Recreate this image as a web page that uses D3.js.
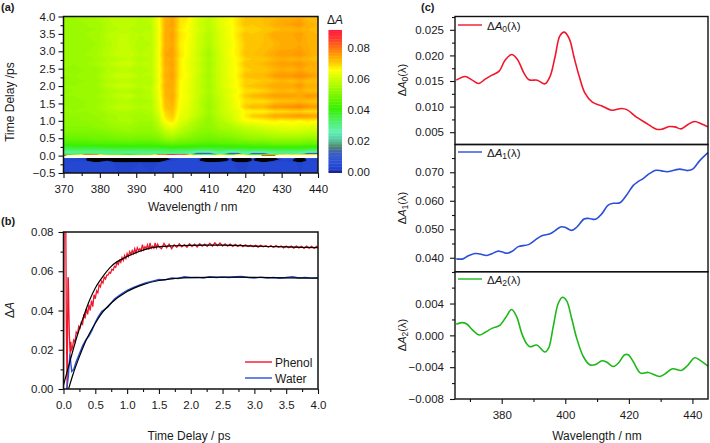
<!DOCTYPE html>
<html><head><meta charset="utf-8">
<script src="https://cdn.jsdelivr.net/npm/d3@7"></script>
<style>
html,body{margin:0;padding:0;background:#fff}
svg{display:block}
text{font-family:"Liberation Sans",Arial,sans-serif;fill:#1a1a1a}
.axis text{font-size:11.5px;fill:#1a1a1a}
.axis path,.axis line{stroke:#111;stroke-width:1.1}
</style></head><body>
<svg id="c" width="710" height="443"></svg>
<script>
// ---------- panel (a): dA x 1000 on wavelength / delay grid
const mapWavelengths=[370,373,376,379,382,385,388,391,394,396,398,400,402,404,407,410,413,416,418,420,422,425,428,430,433,435,437,440];
const mapDelays=[-0.5,-0.2,-0.16,-0.11,-0.07,-0.058,-0.005,0.012,0.05,0.1,0.18,0.25,0.35,0.5,0.7,0.85,1.0,1.14,1.27,1.4,1.56,1.72,1.86,2.0,2.15,2.29,2.47,2.64,2.77,2.9,3.2,3.5,3.62,3.78,4.0];
const mapValues=[
[3,3,3,3,3,3,3,3,3,3,3,3,3,3,3,3,3,3,3,3,3,3,3,3,3,3,3,3],
[4,4,4,3,4,2,2,3,2,3,4,4,4,4,4,3,4,4,2,2,4,3,4,4,4,2,4,4],
[3,3,3,-10,2,-14,-14,-10,-14,-8,2,3,3,3,3,-10,-4,3,-12,-14,3,-10,2,3,1,-12,3,3],
[3,2,1,-18,-4,-20,-20,-18,-20,-16,-4,2,3,3,3,-18,-10,2,-20,-20,2,-18,-4,2,2,-18,3,2],
[6,5,3,-16,-2,-18,-18,-14,-18,-12,-2,4,6,6,8,-14,-6,4,-16,-18,6,-14,-2,8,10,-14,8,8],
[100,120,130,130,130,130,130,125,125,130,130,130,130,130,130,130,130,130,125,120,130,105,110,130,130,130,130,130],
[82,125,130,130,130,130,130,120,125,130,130,130,130,130,130,130,130,130,120,100,130,84,86,130,130,130,130,130],
[45,60,96,95,60,60,50,60,60,95,96,110,110,95,45,35,80,50,90,70,50,55,55,85,70,85,92,90],
[32,30,34,32,30,31,32,30,28,32,30,30,32,30,5,5,28,5,5,28,5,6,28,30,30,24,6,6],
[27,28,28,28,28,29,28,29,29,28,29,30,29,28,24,24,28,24,25,28,26,26,29,29,29,29,26,24],
[33,34,34,34,34,35,35,34,35,35,35,36,35,35,34,34,35,35,35,35,36,35,36,36,36,36,35,35],
[37,38,38,38,39,39,39,39,39,39,40,41,40,40,39,39,39,40,40,40,41,41,41,41,41,41,40,40],
[43,43,43,44,44,44,45,44,44,45,46,47,46,46,45,44,45,45,46,46,47,47,48,48,48,48,47,47],
[47,47,47,48,48,49,49,49,49,50,53,54,52,51,49,48,49,50,51,52,53,53,54,54,54,54,53,53],
[50,50,50,50,51,52,53,52,52,54,58,60,57,55,52,51,53,54,55,56,57,58,59,60,60,60,59,59],
[51,51,51,52,53,54,54,53,53,56,62,64,60,57,54,52,55,56,58,60,60,62,63,63,64,63,63,62],
[52,51,52,52,54,55,56,54,54,58,66,68,62,60,55,52,56,59,62,65,65,66,67,66,67,66,67,66],
[52,52,52,53,54,55,55,54,55,59,68,70,63,62,57,53,57,60,63,67,70,71,74,74,75,76,75,74],
[53,53,53,53,55,56,56,55,56,61,69,71,64,62,58,54,58,61,63,66,66,66,68,68,69,69,68,68],
[53,52,53,54,56,58,58,56,56,62,71,72,65,63,58,53,58,62,65,70,72,72,76,76,77,78,76,75],
[52,52,53,53,55,56,56,55,56,62,71,73,65,63,58,54,58,62,65,68,68,68,70,71,71,72,71,70],
[53,53,53,54,56,58,59,56,57,63,72,74,66,64,59,54,59,63,66,70,72,73,75,75,75,74,76,75],
[52,53,53,53,55,56,56,55,57,63,72,73,66,63,59,55,59,62,65,68,68,69,71,72,71,73,71,71],
[53,53,54,54,57,59,59,57,57,64,73,74,66,64,59,54,60,64,66,70,71,72,74,74,74,76,73,73],
[52,52,53,53,56,57,57,56,56,63,72,74,66,64,59,55,60,63,66,69,69,70,71,72,71,73,71,71],
[53,53,54,54,57,59,59,57,57,64,73,75,67,65,59,54,60,64,67,71,72,72,75,76,76,77,76,74],
[53,52,53,53,56,57,57,56,57,63,72,74,67,64,60,55,60,64,66,69,70,70,72,73,72,74,72,72],
[53,53,54,55,57,59,60,57,57,64,73,75,67,64,59,54,60,64,67,71,71,72,74,75,75,76,74,73],
[53,53,53,54,56,57,58,56,57,63,73,74,67,64,60,55,60,64,66,69,70,70,72,73,72,73,72,71],
[53,53,54,55,57,59,59,57,57,64,74,75,68,65,59,54,60,65,67,71,71,72,74,75,75,76,74,72],
[53,53,53,54,56,58,58,56,57,63,73,74,67,65,60,56,61,64,67,70,70,71,72,73,73,74,73,72],
[53,53,54,54,57,58,58,57,57,64,73,75,68,66,60,56,61,65,68,71,70,71,74,74,74,75,73,72],
[53,53,53,54,56,57,57,56,57,63,73,74,67,65,61,57,61,65,67,69,69,70,71,72,72,73,72,71],
[53,53,54,54,56,58,58,56,57,64,73,75,68,66,60,57,62,65,68,71,70,71,73,74,75,76,73,72],
[54,54,54,55,57,57,57,57,58,64,72,74,68,67,62,58,62,65,68,70,70,71,71,72,72,73,71,71]
];
const colorbarTicks=[0,0.02,0.04,0.06,0.08];
const colorStops=[0,5,12,15,20,25,30,40,50,60,65,70,75,80,85,90];
const colorValues=["#1c3cc4","#2a50da","#3f62b8","#4f8270","#55cca2","#62f0b4","#52f07c","#38f000","#84f800","#d4ff00","#ffff00","#ffc400","#ff9a00","#ff6a14","#ff3a2c","#ff1c40"];
// ---------- panel (b)
const phenolSpikeT=[0,0.004,0.01,0.018,0.026,0.036,0.045,0.057,0.064,0.07,0.076,0.084,0.092,0.104,0.115,0.125];
const phenolSpikeV=[0,0.03,0.085,0.12,0.10,0.085,0.03,0,0.03,0.057,0.056,0.04,0.028,0.018,0.024,0.02];
const phenolT=[0.14,0.16,0.18,0.2,0.22,0.24,0.26,0.28,0.3,0.32,0.34,0.36,0.38,0.4,0.42,0.44,0.46,0.48,0.5,0.52,0.54,0.56,0.58,0.6,0.62,0.64,0.66,0.68,0.7,0.72,0.74,0.76,0.78,0.8,0.82,0.84,0.86,0.88,0.9,0.92,0.94,0.96,0.98,1,1.02,1.04,1.06,1.08,1.1,1.12,1.14,1.16,1.18,1.2,1.22,1.24,1.26,1.28,1.3,1.32,1.34,1.36,1.38,1.4,1.42,1.44,1.46,1.48,1.5,1.54,1.58,1.62,1.66,1.7,1.74,1.78,1.82,1.86,1.9,1.94,1.98,2.02,2.06,2.1,2.14,2.18,2.22,2.26,2.3,2.34,2.38,2.42,2.46,2.5,2.54,2.58,2.62,2.66,2.7,2.74,2.78,2.82,2.86,2.9,2.94,2.98,3.02,3.06,3.1,3.14,3.18,3.22,3.26,3.3,3.34,3.38,3.42,3.46,3.5,3.54,3.58,3.62,3.66,3.7,3.74,3.78,3.82,3.86,3.9,3.94,3.98,4];
const phenolV=[0.021,0.025,0.024,0.029,0.028,0.032,0.031,0.034,0.033,0.038,0.036,0.041,0.038,0.043,0.04,0.045,0.042,0.048,0.046,0.05,0.049,0.053,0.052,0.055,0.054,0.057,0.056,0.058,0.058,0.0595,0.059,0.061,0.0605,0.0625,0.062,0.0645,0.0635,0.0655,0.0645,0.067,0.0655,0.068,0.0665,0.069,0.0675,0.07,0.0685,0.0705,0.069,0.0715,0.0695,0.072,0.0705,0.0715,0.0705,0.0735,0.071,0.0725,0.0715,0.0735,0.071,0.0745,0.0718,0.0728,0.0718,0.0745,0.072,0.0738,0.0725,0.0715,0.0742,0.072,0.0738,0.0715,0.0735,0.0722,0.074,0.0725,0.0736,0.0722,0.074,0.0726,0.0738,0.0724,0.074,0.0728,0.0738,0.0727,0.0743,0.0728,0.0745,0.073,0.0744,0.0728,0.074,0.0728,0.0738,0.0727,0.0737,0.0727,0.0736,0.0725,0.0735,0.0726,0.0733,0.0725,0.0732,0.0723,0.0732,0.0725,0.073,0.0722,0.0731,0.0721,0.0731,0.0722,0.0729,0.0719,0.0729,0.072,0.0728,0.0718,0.0728,0.0719,0.0727,0.0716,0.0728,0.0718,0.0727,0.0716,0.0728,0.0718];
const waterT=[0.05,0.075,0.1,0.115,0.13,0.16,0.2,0.25,0.3,0.35,0.4,0.45,0.5,0.55,0.6,0.7,0.8,0.9,1,1.1,1.2,1.3,1.4,1.5,1.6,1.7,1.8,1.9,2,2.1,2.2,2.3,2.4,2.5,2.6,2.7,2.8,2.9,3,3.1,3.2,3.3,3.4,3.5,3.6,3.7,3.8,3.9,4];
const waterV=[0,0.006,0.018,0.013,0.009,0.01,0.014,0.018,0.022,0.025,0.027,0.03,0.034,0.037,0.0395,0.0418,0.0458,0.0482,0.0502,0.0518,0.053,0.0542,0.055,0.0558,0.0556,0.0566,0.0563,0.0572,0.0568,0.0569,0.0566,0.0572,0.0568,0.057,0.0568,0.0572,0.0574,0.0568,0.0565,0.057,0.0566,0.0568,0.0564,0.0568,0.0572,0.0566,0.0568,0.0565,0.0567];
const phenolFitT=[0,0.1,0.2,0.3,0.4,0.5,0.6,0.75,1,1.25,1.5,1.75,2,2.5,3,3.5,4];
const phenolFitV=[0.002,0.014,0.0255,0.0355,0.0445,0.0515,0.0565,0.0625,0.0675,0.0708,0.0725,0.073,0.0732,0.0733,0.0728,0.0724,0.072];
const waterFitT=[0.08,0.15,0.25,0.35,0.5,0.6,0.75,1,1.25,1.5,1.75,2,2.5,3,3.5,4];
const waterFitV=[0,0.0075,0.0165,0.0245,0.0335,0.0385,0.0438,0.0497,0.0532,0.0553,0.0563,0.0568,0.057,0.0569,0.0566,0.0565];
const legendB=["Phenol","Water"];
// ---------- panel (c)
const nmA0=[365.7,368.5,370.6,372.7,374.8,376.9,379.2,381,383.1,384.9,387,388.6,391.2,393.6,395.2,396.8,398.3,399.7,401.3,402.7,404.4,406.2,408.5,411.4,414.6,417.7,419.5,422.4,425.5,428.7,430.3,432.7,434.5,436.5,438.6,440.7,442.8,444.9];
const valA0=[.01516,.01588,.01523,.01451,.01536,.01614,.01692,.01901,.02018,.01927,.01653,.01523,.01516,.01445,.01588,.01979,.02383,.02454,.02318,.01979,.01588,.01262,.01086,.01015,.0093,.00963,.00936,.00793,.00676,.00559,.00559,.00611,.00604,.00565,.0065,.00708,.00663,.00604];
const nmA1=[365.7,367.8,369.5,371.6,373.2,375.3,376.9,378.7,380,381.8,383.5,385.2,388.4,390.5,392.6,395.2,396.8,398.5,399.9,402,403.6,405.9,407.5,409.5,411.4,413.5,415.1,417.2,419.3,421.4,422.9,424.5,426.6,428.5,430.3,432,434.5,436,438.6,440.2,442.3,444.9];
const valA1=[.0396,.0396,.0407,.0415,.0413,.0408,.0414,.0423,.0421,.0416,.0424,.0439,.0446,.0462,.0477,.0484,.0495,.0508,.0507,.0496,.0507,.0536,.0538,.0535,.0553,.0585,.0591,.0593,.062,.0654,.0667,.0678,.0696,.0707,.0705,.0702,.0708,.0711,.0706,.0712,.0741,.0769];
const nmA2=[365.7,367.4,369,370.6,373,374.8,376.9,379.5,381.4,383.1,384.7,386.3,387.9,388.9,391,393.6,394.8,396.2,397.8,399.1,400.4,402,403.6,405.7,407.7,409.3,411.6,413,415.1,416.6,418.7,419.8,421.4,423.7,426.1,429.7,431.3,433.7,436.5,438.6,440.7,442.3,444.9];
const valA2=[.00139,.0016,.00143,.00076,.00004,.00038,.00088,.0013,.00235,.00324,.00235,.00025,-.00109,-.00143,-.00122,-.0021,-.00155,.00109,.00403,.00479,.00437,.00214,-.00038,-.00269,-.0037,-.0037,-.00319,-.00336,-.00391,-.00353,-.00244,-.00244,-.00332,-.00475,-.00466,-.00517,-.00487,-.0042,-.00441,-.00374,-.00282,-.00311,-.00387];

const svg=d3.select("#c");
const INK="#111";
function frame(x0,y0,x1,y1,w){svg.append("rect").attr("x",x0).attr("y",y0).attr("width",x1-x0).attr("height",y1-y0).attr("fill","none").attr("stroke",INK).attr("stroke-width",w||1.4);}
function ticks(axisFn,scale,major,minor,fmt,tx,ty,pad){
  const g=svg.append("g").attr("class","axis").attr("transform",`translate(${tx},${ty})`);
  g.call(axisFn(scale).tickValues(major).tickSize(5).tickPadding(pad).tickFormat(d3.format(fmt)));
  g.select(".domain").remove();
  const m=svg.append("g").attr("class","axis").attr("transform",`translate(${tx},${ty})`);
  m.call(axisFn(scale).tickValues(minor).tickSize(3).tickFormat(""));
  m.select(".domain").remove();
}
function label(x,y,str,opt={}){
  return svg.append("text").attr("x",x).attr("y",y).attr("text-anchor",opt.anchor||"middle").attr("dominant-baseline","central")
   .attr("font-size",opt.size||12).attr("font-weight",opt.weight||null)
   .attr("transform",opt.rot?`rotate(-90,${x},${y})`:null).text(str);
}
// panel letters
label(1,7,"(a)",{anchor:"start",size:11,weight:"bold"});
label(1,221,"(b)",{anchor:"start",size:11,weight:"bold"});
label(421,7,"(c)",{anchor:"start",size:11,weight:"bold"});

// ===== (a)
const ax=d3.scaleLinear().domain([370,440]).range([63.5,318]);
const ay=d3.scaleLinear().domain([-0.5,4]).range([173,16.5]);
const col=d3.scaleLinear().domain(colorStops).range(colorValues).clamp(true);
const colorFor=v=>v<0?"#000":v>90?"#fff":col(v);
const nRows=mapDelays.length,nCols=mapWavelengths.length;
const gx=d3.scaleLinear().domain([0,...d3.range(nCols).map(i=>i+.5),nCols]).range([mapWavelengths[0],...mapWavelengths,mapWavelengths[nCols-1]]);
const gy=d3.scaleLinear().domain([0,...d3.range(nRows).map(i=>i+.5),nRows]).range([mapDelays[0],...mapDelays,mapDelays[nRows-1]]);
const thresholds=d3.range(-20,101,1);
const contours=d3.contours().size([nCols,nRows]).thresholds(thresholds).smooth(true)(mapValues.flat());
svg.append("clipPath").attr("id","ca").append("rect").attr("x",63.5).attr("y",16.5).attr("width",254.5).attr("height",156.5);
const path=d3.geoPath(d3.geoTransform({point(x,y){this.stream.point(ax(gx(x)),ay(gy(y)));}}));
const ga=svg.append("g").attr("clip-path","url(#ca)");
ga.append("rect").attr("x",63.5).attr("y",16.5).attr("width",254.5).attr("height",156.5).attr("fill","#000");
ga.selectAll("path").data(contours).join("path").attr("d",path).attr("fill",d=>colorFor(d.value));
frame(63.5,16.5,318,173,1.5);
ticks(d3.axisLeft,ay,d3.range(-0.5,4.01,.5),d3.range(-0.25,4,.5),".1f",63.5,0,3);
ticks(d3.axisBottom,ax,d3.range(370,441,10),d3.range(375,440,10),"d",0,173,6.5);
label(10,102,"Time Delay /ps",{rot:true});
label(192.7,207,"Wavelength / nm");
// colorbar
const cy=d3.scaleLinear().domain([0,.08]).range([171,47]);
const cbSteps=d3.range(-1,91,1);
svg.append("g").selectAll("rect").data(cbSteps).join("rect")
  .attr("x",328.5).attr("width",13.5)
  .attr("y",d=>cy((d+1)/1000)).attr("height",d=>cy(d/1000)-cy((d+1)/1000)+.4)
  .attr("fill",d=>d<0?"#1a1a70":col(d));
svg.append("g").selectAll("text").data(colorbarTicks).join("text")
  .attr("x",347.5).attr("y",d=>cy(d)+.5).attr("dominant-baseline","central").attr("font-size",11.5).text(d=>d3.format(".2f")(d));
function deltaA(x,y,sub,opt={}){
  const t=svg.append("text").attr("x",x).attr("y",y).attr("font-size",opt.size||11.5).attr("dominant-baseline","central").attr("text-anchor",opt.anchor||"start");
  if(opt.rot)t.attr("transform",`rotate(-90,${x},${y})`);
  t.append("tspan").text("Δ");
  t.append("tspan").attr("font-style","italic").text("A");
  if(sub!==null){
    t.append("tspan").attr("font-size",8.5).attr("dy",3).text(sub);
    t.append("tspan").attr("dy",-3).text("(λ)");
  }
  return t;
}
deltaA(335,20,null,{anchor:"middle",size:12});

// ===== (b)
const bx=d3.scaleLinear().domain([0,4]).range([63.5,318]);
const by=d3.scaleLinear().domain([0,.08]).range([389,232]);
svg.append("clipPath").attr("id","cb").append("rect").attr("x",63.5).attr("y",232).attr("width",254.5).attr("height",157);
const gb=svg.append("g").attr("clip-path","url(#cb)");
const zip=(a,b)=>a.map((d,i)=>[d,b[i]]);
const lb=d3.line().x(d=>bx(d[0])).y(d=>by(d[1]));
const RED="#f0162c",BLUE="#2a4fd8",GREEN="#1fb81a";
gb.append("path").attr("d",lb(zip(phenolSpikeT.concat(phenolT),phenolSpikeV.concat(phenolV)))).attr("fill","none").attr("stroke",RED).attr("stroke-width",1.3);
gb.append("path").attr("d",lb(zip(waterT,waterV))).attr("fill","none").attr("stroke",BLUE).attr("stroke-width",1.4);
const lf=d3.line().x(d=>bx(d[0])).y(d=>by(d[1])).curve(d3.curveMonotoneX);
gb.append("path").attr("d",lf(zip(phenolFitT,phenolFitV))).attr("fill","none").attr("stroke","#000").attr("stroke-width",1.2);
gb.append("path").attr("d",lf(zip(waterFitT,waterFitV))).attr("fill","none").attr("stroke","#000").attr("stroke-width",1.2);
frame(63.5,232,318,389,1.5);
ticks(d3.axisLeft,by,d3.range(0,.081,.02),d3.range(.01,.08,.02),".2f",63.5,0,5);
ticks(d3.axisBottom,bx,d3.range(0,4.01,.5),d3.range(.25,4,.5),".1f",0,389,6.5);
[[362,RED],[378,BLUE]].forEach(([y,c],i)=>{
  svg.append("line").attr("x1",245).attr("x2",272).attr("y1",y).attr("y2",y).attr("stroke",c).attr("stroke-width",1.4);
  label(275,y+.5,legendB[i],{anchor:"start"});
});
deltaA(10,310,null,{rot:true,anchor:"middle",size:12});
label(189,435.7,"Time Delay / ps");

// ===== (c)
const cx=d3.scaleLinear().domain([365.3,444.9]).range([455,708]);
const panels=[
 {nm:nmA0,val:valA0,dom:[.0026,.0276],top:16.5,bot:144.5,major:[.005,.01,.015,.02,.025],minor:[.0075,.0125,.0175,.0225,.0275],c:RED,sub:"0",ly:25,ty:80},
 {nm:nmA1,val:valA1,dom:[.0351,.07975],top:144.5,bot:271.7,major:[.04,.05,.06,.07],minor:[.035,.045,.055,.065,.075],c:BLUE,sub:"1",ly:152,ty:208},
 {nm:nmA2,val:valA2,dom:[-.008,.008],top:271.7,bot:399,major:[-.008,-.004,0,.004],minor:[-.006,-.002,.002,.006],c:GREEN,sub:"2",ly:279,ty:335}
];
panels.forEach(p=>{
  const y=d3.scaleLinear().domain(p.dom).range([p.bot,p.top]);
  svg.append("path").attr("d",d3.line().x(d=>cx(d[0])).y(d=>y(d[1])).curve(d3.curveCatmullRom)(zip(p.nm,p.val)))
    .attr("fill","none").attr("stroke",p.c).attr("stroke-width",1.6);
  frame(455,p.top,708,p.bot,1.4);
  ticks(d3.axisLeft,y,p.major,p.minor,".3f",455,0,6);
  svg.append("line").attr("x1",458).attr("x2",482).attr("y1",p.ly).attr("y2",p.ly).attr("stroke",p.c).attr("stroke-width",1.4);
  deltaA(487,p.ly+1,p.sub);
  deltaA(402,p.ty,p.sub,{rot:true,anchor:"middle",size:11});
});
ticks(d3.axisBottom,cx,[380,400,420,440],[370,390,410,430],"d",0,399,7);
label(597,436,"Wavelength / nm");
</script>
</body></html>
